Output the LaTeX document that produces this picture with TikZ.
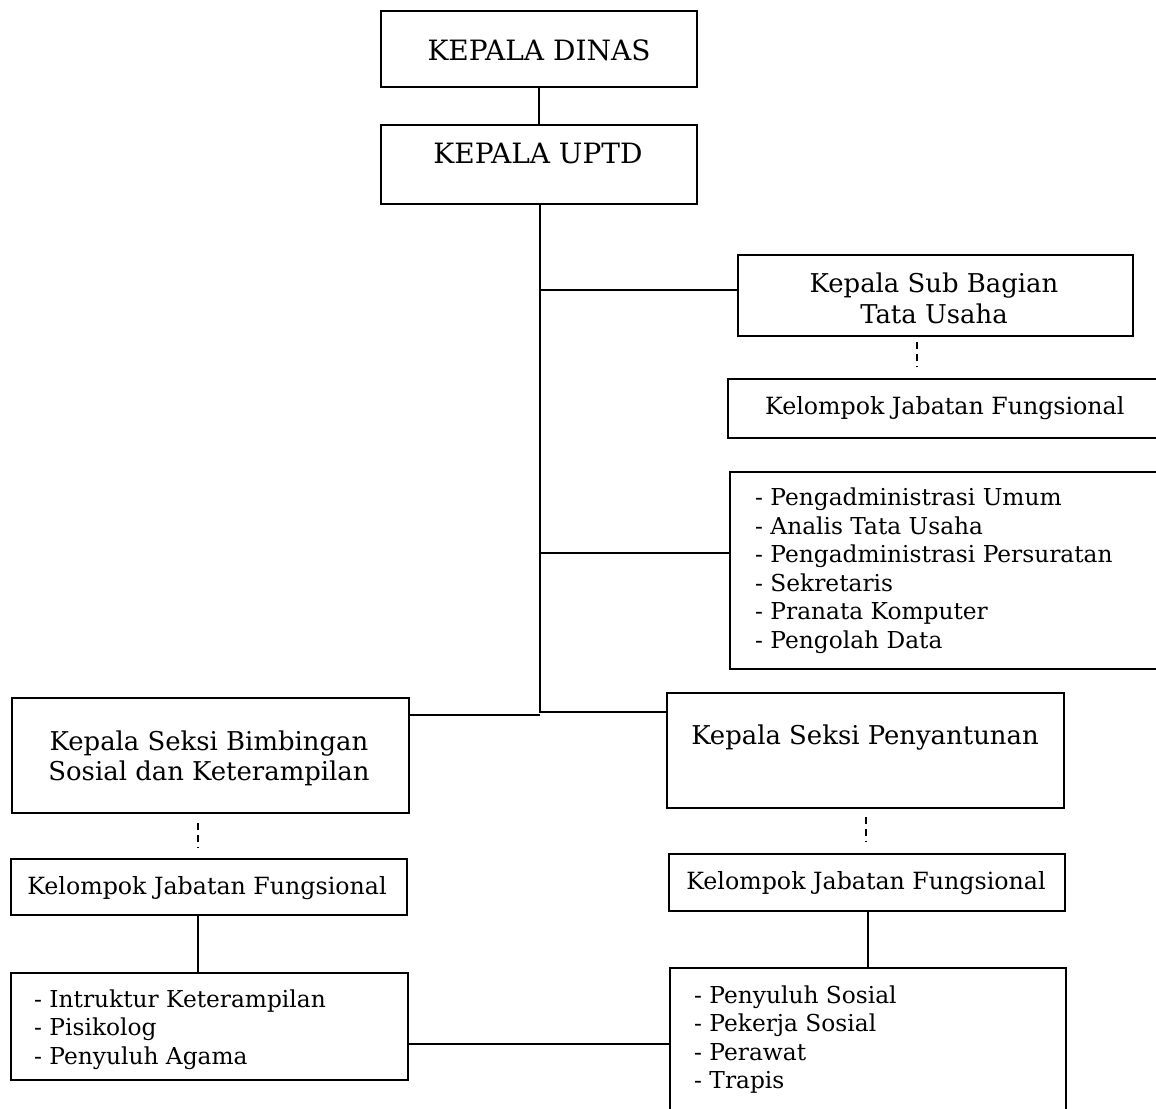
\documentclass[tikz,border=0pt]{standalone}
\usepackage{fontspec}
\setmainfont{DejaVu Serif}
\begin{document}
\begin{tikzpicture}[x=1pt,y=-1pt]
\tikzset{
  box/.style={draw=black, line width=1.8pt, inner sep=0pt, anchor=north west},
  txt/.style={inner sep=0pt, anchor=base},
  lst/.style={inner sep=0pt, anchor=base west},
  conn/.style={draw=black, line width=1.8pt},
  dashline/.style={draw=black, line width=1.8pt, dash pattern=on 7pt off 5pt},
  ftitle/.style={font=\fontsize{28}{30}\selectfont},
  fhead/.style={font=\fontsize{25.9}{30}\selectfont},
  fkjf/.style={font=\fontsize{23.7}{28}\selectfont},
  flist/.style={font=\fontsize{23.3}{28.5}\selectfont},
}
\clip (0,0) rectangle (1156,1108);
\fill[white] (0,0) rectangle (1156,1108);

% boxes
\node[box, minimum width=316, minimum height=76] (dinas) at (380,10) {};
\node[box, minimum width=316, minimum height=79] (uptd) at (380,124) {};
\node[box, minimum width=395, minimum height=81] (sub) at (737,254) {};
\node[box, minimum width=460, minimum height=59] (kjfr) at (727,378) {};
\node[box, minimum width=460, minimum height=197] (listr) at (729,471) {};
\node[box, minimum width=397, minimum height=115] (bim) at (11,697) {};
\node[box, minimum width=397, minimum height=115] (pen) at (666,692) {};
\node[box, minimum width=396, minimum height=56] (kjfl) at (10,858) {};
\node[box, minimum width=396, minimum height=57] (kjfp) at (668,853) {};
\node[box, minimum width=397, minimum height=107] (listl) at (10,972) {};
\node[box, minimum width=396, minimum height=160] (listp) at (669,967) {};

% texts
\node[txt, ftitle] (tdinas) at (539,60) {KEPALA DINAS};
\node[txt, ftitle] (tuptd) at (538,163) {KEPALA UPTD};
\node[txt, fhead] (tsub1) at (934,292) {Kepala Sub Bagian};
\node[txt, fhead] (tsub2) at (934,323) {Tata Usaha};
\node[lst, fkjf] (tkjfr) at (765,414) {Kelompok Jabatan Fungsional};
\node[lst, flist, align=left] (tlistr) at (755,648) {- Pengadministrasi Umum\\- Analis Tata Usaha\\- Pengadministrasi Persuratan\\- Sekretaris\\- Pranata Komputer\\- Pengolah Data};
\node[txt, fhead] (tbim1) at (209,750) {Kepala Seksi Bimbingan};
\node[txt, fhead] (tbim2) at (209,780) {Sosial dan Keterampilan};
\node[txt, fhead] (tpen) at (865,744) {Kepala Seksi Penyantunan};
\node[txt, fkjf] (tkjfl) at (207,894) {Kelompok Jabatan Fungsional};
\node[txt, fkjf] (tkjfp) at (866,889) {Kelompok Jabatan Fungsional};
\node[lst, flist, align=left] (tlistl) at (34,1064) {- Intruktur Keterampilan\\- Pisikolog\\- Penyuluh Agama};
\node[lst, flist, align=left] (tlistp) at (694,1088.5) {- Penyuluh Sosial\\- Pekerja Sosial\\- Perawat\\- Trapis};

% connector coordinates
\coordinate (trunk) at (540,713);
\coordinate (jsub) at (540,290);
\coordinate (jlist) at (540,553);
\coordinate (jbim) at (540,715);
\coordinate (jpen) at (540,712);
\coordinate (d1a) at (198,823);
\coordinate (d1b) at (198,848);
\coordinate (d2a) at (866,817);
\coordinate (d2b) at (866,842);
\coordinate (d3a) at (917,342);
\coordinate (d3b) at (917,367);
\coordinate (vl) at (198,0);
\coordinate (vp) at (868,0);
\coordinate (jb) at (0,1044);

\draw[conn] (dinas.south) -- (uptd.north);
\draw[conn] (uptd.south -| trunk) -- (trunk);
\draw[conn] (jsub) -- (jsub -| sub.west);
\draw[conn] (jlist) -- (jlist -| listr.west);
\draw[conn] (jbim) -- (jbim -| bim.east);
\draw[conn] (jpen) -- (jpen -| pen.west);
\draw[dashline] (d3a) -- (d3b);
\draw[dashline] (d1a) -- (d1b);
\draw[dashline] (d2a) -- (d2b);
\draw[conn] (kjfl.south -| vl) -- (listl.north -| vl);
\draw[conn] (kjfp.south -| vp) -- (listp.north -| vp);
\draw[conn] (listl.east |- jb) -- (listp.west |- jb);
\end{tikzpicture}
\end{document}
